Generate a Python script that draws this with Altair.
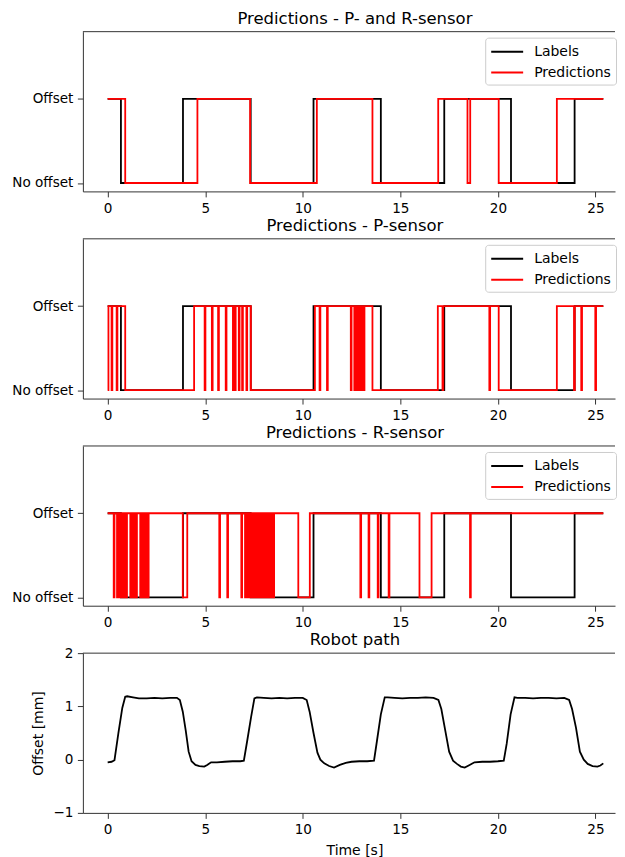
import altair as alt
import pandas as pd

T_END = 25.4

# Ground-truth labels: intervals where the label is "No offset"
label_low_start = [0.68, 7.33, 14.00, 20.67]
label_low_end = [3.86, 10.55, 17.25, 23.93]

# Predictions, P- and R-sensor: "No offset" intervals
pr_low_start = [0.90, 7.30, 13.57, 18.44, 20.04]
pr_low_end = [4.60, 10.72, 16.94, 18.58, 23.02]

# Predictions, P-sensor
p_low_start = [0.00, 0.20, 0.46, 0.90, 4.97, 5.34, 5.66, 6.05, 6.42, 6.52, 6.72, 6.89, 7.11, 7.34,
               10.86, 11.24, 12.46, 12.64, 12.72, 12.80, 12.88, 12.96, 13.04, 13.12, 13.57,
               17.16, 19.56, 20.04, 23.90, 24.27, 24.99]
p_low_end = [0.04, 0.24, 0.50, 4.43, 5.01, 5.38, 5.70, 6.09, 6.46, 6.56, 6.76, 6.93, 7.15, 10.62,
             10.90, 11.28, 12.50, 12.68, 12.76, 12.84, 12.92, 13.00, 13.08, 13.16, 16.92,
             17.20, 19.60, 23.02, 23.94, 24.31, 25.03]

# Predictions, R-sensor
r_low_start = [0.31, 0.48, 0.58, 0.68, 0.78, 0.88, 0.96, 1.16, 1.26, 1.36, 1.45, 1.67, 1.77, 1.87,
               1.97, 2.06, 3.85, 5.72, 6.13, 6.85, 7.04, 7.14, 7.24, 7.33, 7.47, 7.56, 7.67, 7.77,
               7.87, 7.97, 8.07, 8.17, 8.27, 8.37, 8.47, 9.77, 12.95, 13.37, 13.84, 14.40, 15.98, 18.57]
r_low_end = [0.35, 0.54, 0.64, 0.74, 0.84, 0.94, 0.99, 1.22, 1.32, 1.42, 1.50, 1.73, 1.83, 1.93,
             2.03, 2.10, 4.08, 5.76, 6.17, 6.89, 7.10, 7.20, 7.30, 7.39, 7.53, 7.60, 7.73, 7.83,
             7.93, 8.03, 8.13, 8.23, 8.33, 8.43, 8.53, 10.36, 12.99, 13.41, 13.88, 14.44, 16.60, 18.61]

# Robot path
path_t = [0.0, 0.2, 0.35, 0.55, 0.75, 0.9, 1.0, 1.3, 1.6, 2.0, 2.4, 2.8, 3.2, 3.55, 3.7, 3.85, 4.0,
          4.15, 4.3, 4.5, 4.7, 4.95, 5.1, 5.3, 5.6, 6.0, 6.4, 6.8, 6.98, 7.15, 7.35, 7.52, 7.65, 8.0,
          8.4, 8.8, 9.2, 9.6, 10.0, 10.2, 10.35, 10.55, 10.75, 10.9, 11.1, 11.35, 11.6, 11.9, 12.2,
          12.5, 12.9, 13.3, 13.65, 13.8, 14.0, 14.2, 14.35, 14.7, 15.1, 15.5, 15.9, 16.3, 16.7,
          16.95, 17.1, 17.3, 17.5, 17.7, 17.9, 18.1, 18.3, 18.55, 18.8, 19.2, 19.6, 20.0, 20.3,
          20.45, 20.65, 20.85, 21.0, 21.4, 21.8, 22.2, 22.6, 23.0, 23.4, 23.65, 23.8, 24.0, 24.2,
          24.4, 24.6, 24.85, 25.1, 25.25, 25.4]
path_y = [-0.05, -0.04, -0.01, 0.50, 0.97, 1.18, 1.19, 1.17, 1.15, 1.15, 1.16, 1.15, 1.16, 1.16,
          1.12, 0.90, 0.55, 0.15, -0.03, -0.10, -0.12, -0.13, -0.10, -0.05, -0.05, -0.04, -0.03,
          -0.03, -0.02, 0.35, 0.80, 1.15, 1.17, 1.16, 1.15, 1.16, 1.15, 1.16, 1.16, 1.12, 0.90,
          0.50, 0.13, 0.00, -0.07, -0.12, -0.15, -0.10, -0.06, -0.04, -0.03, -0.03, -0.02, 0.35,
          0.85, 1.17, 1.17, 1.16, 1.15, 1.16, 1.16, 1.17, 1.16, 1.12, 0.95, 0.55, 0.15, -0.02,
          -0.08, -0.13, -0.15, -0.10, -0.05, -0.04, -0.04, -0.03, -0.02, 0.30, 0.85, 1.17, 1.16,
          1.16, 1.15, 1.16, 1.16, 1.15, 1.16, 1.12, 0.95, 0.60, 0.15, 0.00, -0.08, -0.12, -0.13,
          -0.11, -0.07]

W = 533
H = 160
FONT = "DejaVu Sans"
X_DOMAIN = [-1.27, 26.0]


def steps(starts, ends, name):
    t, v = [0.0], [1]
    for s, e in zip(starts, ends):
        if s <= 0:
            v[0] = 0
        else:
            t.append(s)
            v.append(0)
        t.append(e)
        v.append(1)
    t.append(T_END)
    v.append(v[-1])
    return pd.DataFrame({"t": t, "v": v, "series": name})


labels_df = steps(label_low_start, label_low_end, "Labels")

xenc = alt.X("t:Q", scale=alt.Scale(domain=X_DOMAIN, nice=False, zero=False),
             axis=alt.Axis(values=[0, 5, 10, 15, 20, 25], title=None, format="d"))
color_scale = alt.Scale(domain=["Labels", "Predictions"], range=["black", "red"])


def top_rule():
    return alt.Chart(pd.DataFrame({"k": [0]})).mark_rule(color="#333", strokeWidth=1).encode(
        x=alt.value(0), x2=alt.value(W), y=alt.value(0))


def panel(title, starts, ends):
    pred_df = steps(starts, ends, "Predictions")
    yenc = alt.Y("v:Q", scale=alt.Scale(domain=[-0.1, 1.8], nice=False, zero=False),
                 axis=alt.Axis(values=[0, 1], title=None,
                               labelExpr="datum.value == 1 ? 'Offset' : 'No offset'"))
    legend = alt.Legend(title=None, orient="none", legendX=403, legendY=6,
                        symbolType="M-1,0H3", symbolSize=256, symbolStrokeWidth=2,
                        labelFontSize=14, labelFont=FONT, labelColor="black",
                        labelOffset=26, rowPadding=5, padding=5,
                        strokeColor="#cccccc", fillColor="white", cornerRadius=3)
    black = alt.Chart(labels_df).mark_line(interpolate="step-after", strokeWidth=1.8).encode(
        x=xenc, y=yenc, color=alt.Color("series:N", scale=color_scale, legend=legend))
    red = alt.Chart(pred_df).mark_line(interpolate="step-after", strokeWidth=1.8).encode(
        x=xenc, y=yenc, color=alt.Color("series:N", scale=color_scale, legend=legend))
    return alt.layer(black, red, top_rule()).properties(
        width=W, height=H,
        title=alt.TitleParams(title, dx=6, offset=4, anchor="middle"))


p1 = panel("Predictions - P- and R-sensor", pr_low_start, pr_low_end)
p2 = panel("Predictions - P-sensor", p_low_start, p_low_end)
p3 = panel("Predictions - R-sensor", r_low_start, r_low_end)

path_df = pd.DataFrame({"t": path_t, "y": path_y})
path_line = alt.Chart(path_df).mark_line(color="black", strokeWidth=1.8).encode(
    x=alt.X("t:Q", scale=alt.Scale(domain=X_DOMAIN, nice=False, zero=False),
            axis=alt.Axis(values=[0, 5, 10, 15, 20, 25], title="Time [s]", format="d",
                          titleX=272, titlePadding=7)),
    y=alt.Y("y:Q", scale=alt.Scale(domain=[-1, 2], nice=False, zero=False),
            axis=alt.Axis(values=[-1, 0, 1, 2], title="Offset [mm]", titlePadding=7)))
p4 = alt.layer(path_line, top_rule()).properties(
    width=W, height=H,
    title=alt.TitleParams("Robot path", dx=6, dy=6, offset=4, anchor="middle"))

chart = alt.vconcat(p1, p2, p3, p4, spacing=47.5, bounds="flush").resolve_legend(
    color="independent"
).properties(
    padding={"left": 3, "top": 2, "right": 0, "bottom": 2}
).configure_view(stroke=None).configure_axis(
    grid=False, domainColor="#333", tickColor="#333", domainWidth=1, tickWidth=1,
    tickSize=5.5, labelPadding=4.5, labelFont=FONT, labelFontSize=13.6, labelColor="black",
    titleFont=FONT, titleFontSize=14, titleFontWeight="normal", titleColor="black"
).configure_title(font=FONT, fontSize=16.5, fontWeight="normal", color="black")

chart.save("out.html", embed_options={"renderer": "svg", "actions": False})
